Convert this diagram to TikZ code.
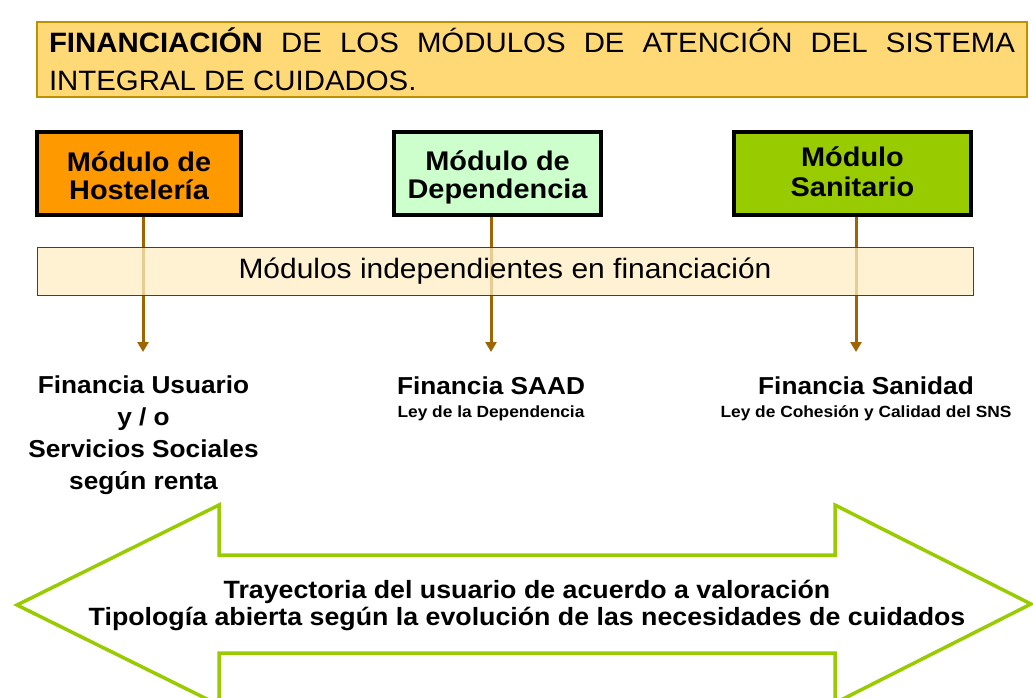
\documentclass[tikz,border=0pt]{standalone}
\usepackage{fontspec}
\setmainfont{Liberation Sans}[FakeStretch=1.07]
\newfontfamily\titlefont{Liberation Sans}[FakeStretch=1.05]
\usepackage{tikz}
\usetikzlibrary{arrows.meta,positioning}

\definecolor{titlefill}{RGB}{255,217,117}
\definecolor{titleline}{RGB}{191,144,0}
\definecolor{hostelfill}{RGB}{255,153,0}
\definecolor{dependfill}{RGB}{204,255,204}
\definecolor{sanitfill}{RGB}{153,204,0}
\definecolor{bandfill}{RGB}{255,238,196}
\definecolor{flowline}{RGB}{160,100,0}
\definecolor{trajline}{RGB}{153,204,0}

\newcommand{\lawfont}{\fontsize{16.2}{23}\selectfont}

\tikzset{
        modbox/.style={draw=black, line width=3.5, inner sep=0, minimum height=83},
        modtext/.style={align=center, inner sep=0, font=\fontsize{27}{28}\selectfont\bfseries},
        lowtext/.style={align=center, inner sep=0, anchor=north,
                font=\fontsize{24.5}{32}\selectfont\bfseries},
        flow/.style={flowline, line width=3, -{Triangle[width=11pt,length=10pt]}},
}

\begin{document}
\begin{tikzpicture}[x=1pt, y=-1pt]
        \useasboundingbox (0,0) rectangle (1033,697);

        \node[draw=titleline, fill=titlefill, line width=1.5, inner sep=0,
                minimum width=990, minimum height=75, text width=966, align=justify,
                font=\titlefont\fontsize{28}{38}\selectfont] (title) at (532,59.5)
                {{\bfseries FINANCIACIÓN} DE LOS MÓDULOS DE ATENCIÓN DEL SISTEMA\linebreak INTEGRAL DE CUIDADOS.};

        \node[modbox, fill=hostelfill, minimum width=204] (hostel) at (139,173.5) {};
        \node[modbox, fill=dependfill, minimum width=207] (depend) at (497.5,173.5) {};
        \node[modbox, fill=sanitfill, minimum width=237] (sanit) at (852.5,173.5) {};

        \node[modtext] (hostel-t) at ([yshift=-2.5]hostel.center) {Módulo de\\Hostelería};
        \node[modtext] (depend-t) at ([yshift=-4]depend.center) {Módulo de\\Dependencia};
        \node[modtext, font=\fontsize{27}{30}\selectfont\bfseries] (sanit-t) at ([yshift=2]sanit.center) {Módulo\\Sanitario};

        \coordinate (hend) at (143,352);
        \coordinate (dend) at (491,352);
        \coordinate (send) at (856,352);

        \draw[flow] (hostel.south -| hend) -- (hend);
        \draw[flow] (depend.south -| dend) -- (dend);
        \draw[flow] (sanit.south -| send) -- (send);

        \node[draw=black!75, fill=bandfill, fill opacity=0.75, text opacity=1, line width=1,
                minimum width=936, minimum height=48, inner sep=0,
                font=\fontsize{28}{30}\selectfont] (band) at (505,271) {Módulos independientes en financiación};

        \node[lowtext] (usuario) at (143.5,376) {Financia Usuario\\y / o\\Servicios Sociales\\según renta};
        \node[lowtext, font=\fontsize{24.5}{23}\selectfont\bfseries] (saad) at (491,377)
                {Financia SAAD\\{\lawfont Ley de la Dependencia}};
        \node[lowtext, font=\fontsize{24.5}{23}\selectfont\bfseries] (sanidad) at (866,377)
                {Financia Sanidad\\{\lawfont Ley de Cohesión y Calidad del SNS}};

        \draw[trajline, line width=3.5, fill=white] (17,605) -- (219,505) -- (219,555) -- (835,555)
                -- (835,505) -- (1031,604) -- (835,703) -- (835,653) -- (219,653) -- (219,705) -- cycle;
        \node[align=center, inner sep=0, font=\fontsize{25}{27}\selectfont\bfseries] (trayect) at (527,605.5)
                {Trayectoria del usuario de acuerdo a valoración\\Tipología abierta según la evolución de las necesidades de cuidados};
\end{tikzpicture}
\end{document}
